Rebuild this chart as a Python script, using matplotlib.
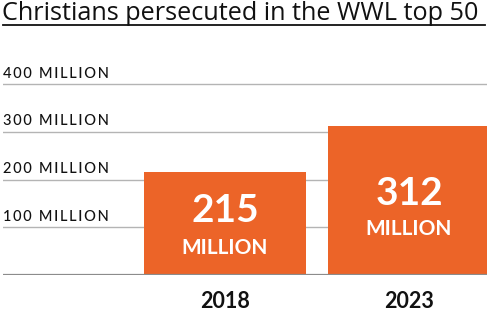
import matplotlib.pyplot as plt
from matplotlib.lines import Line2D

years = ["2018", "2023"]
values = [215, 312]
grid_values = [100, 200, 300, 400]
grid_labels = ["100 MILLION", "200 MILLION", "300 MILLION", "400 MILLION"]

orange = "#EC6428"
plt.rcParams["font.family"] = ["Lato", "DejaVu Sans"]

# vertical placement of the in-bar labels (data units)
number_y = [136, 171]
unit_y = [57, 96]


def spaced(s):
    # fake letter spacing with hair spaces
    return "\u200a\u200a".join(s)


fig = plt.figure(figsize=(4.87, 3.12), dpi=100)
ax = fig.add_axes([3 / 487, 37 / 312, 484 / 487, 200.5 / 312])
ax.set_xlim(-1.207, 1.424)
ax.set_ylim(0, 420)
ax.axis("off")

# gridlines with labels sitting on top of them
for v, lab in zip(grid_values, grid_labels):
    ax.axhline(v, color="#b4b4b4", lw=1.0, zorder=1)
    ax.text(-1.207, v + 7, spaced(lab), ha="left", va="bottom", fontsize=10.5,
            color="#111111", fontweight="medium")
ax.axhline(0, color="#8c8c8c", lw=1.6, zorder=3)

x = range(len(years))
ax.bar(x, values, width=0.88, color=orange, zorder=2)

for i, v in enumerate(values):
    ax.text(i, number_y[i], str(v), ha="center", va="center", fontsize=28,
            fontweight="bold", color="white", zorder=4)
    ax.text(i, unit_y[i], "MILLION", ha="center", va="center", fontsize=15,
            fontweight="bold", color="white", zorder=4)
    ax.text(i, -56, years[i], ha="center", va="center", fontsize=15.5,
            fontweight="bold", color="#111111", clip_on=False)

fig.text(2 / 487, 1 - 13 / 312, "Christians persecuted in the WWL top 50",
         ha="left", va="center", fontsize=18.2, color="#111111",
         family=["Open Sans", "DejaVu Sans"])
fig.add_artist(Line2D([3 / 487, 485 / 487], [1 - 24.5 / 312] * 2,
                      color="#111111", lw=1.3, transform=fig.transFigure))

fig.savefig("out.png", dpi=100)
